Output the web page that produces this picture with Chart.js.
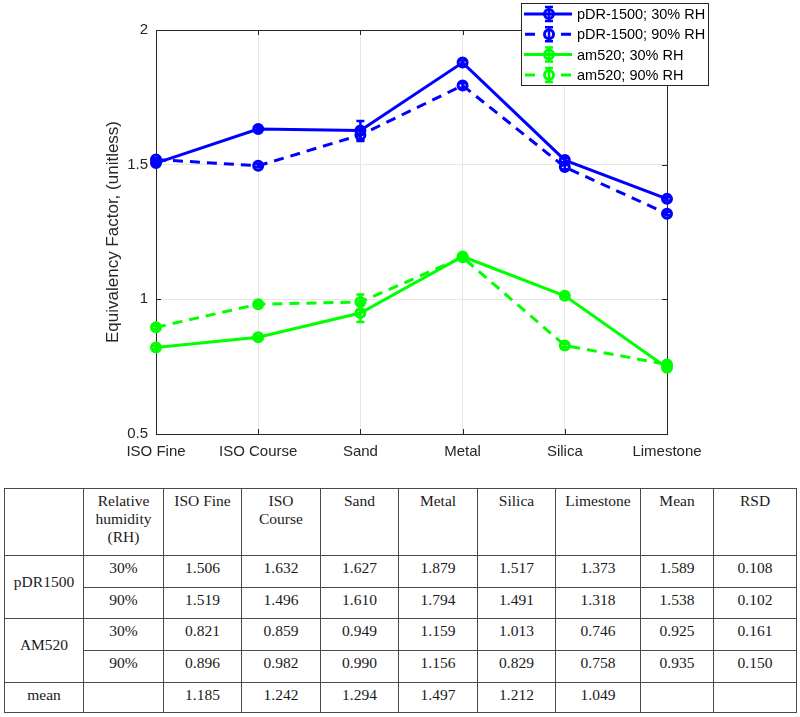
<!DOCTYPE html>
<html>
<head>
<meta charset="utf-8">
<script src="https://cdn.jsdelivr.net/npm/chart.js@4/dist/chart.umd.min.js"></script>
<style>
body{margin:0;background:#fff;}
#wrap{position:absolute;left:0;top:0;width:800px;height:480px;}
#tbl{position:absolute;left:4px;top:488px;border-collapse:collapse;table-layout:fixed;width:792px;
font-family:"Liberation Serif","Times New Roman",serif;font-size:15.5px;color:#1a1a1a;}
#tbl td{border:1px solid #4a4a4a;text-align:center;vertical-align:top;padding:3px 2px 0 2px;line-height:18px;overflow:hidden;white-space:pre-line;}
#tbl td.grp{vertical-align:middle;padding-bottom:14px;}
</style>
</head>
<body>
<div id="wrap"><canvas id="chart"></canvas></div>
<table id="tbl"></table>
<script>
const categories = ["ISO Fine","ISO Course","Sand","Metal","Silica","Limestone"]

const pdr30 = [1.506,1.632,1.627,1.879,1.517,1.373]
const pdr90 = [1.519,1.496,1.610,1.794,1.491,1.318]
const am30 = [0.821,0.859,0.949,1.159,1.013,0.746]
const am90 = [0.896,0.982,0.990,1.156,0.829,0.758]

// error bar half-lengths
const errPdr30 = [0.008,0.008,0.035,0.008,0.008,0.006]
const errPdr90 = [0.006,0.006,0.022,0.008,0.008,0.006]
const errAm30 = [0.006,0.006,0.033,0.006,0.006,0.006]
const errAm90 = [0.006,0.006,0.028,0.006,0.006,0.008]

const yTicks = [0.5,1,1.5,2]

// table values
const tableHead = ["","Relative\nhumidity\n(RH)","ISO Fine","ISO\nCourse","Sand","Metal","Silica","Limestone","Mean","RSD"]
const rhLevels = ["30%","90%"]
const meanPdr = [1.589,1.538]
const rsdPdr = [0.108,0.102]
const meanAm = [0.925,0.935]
const rsdAm = [0.161,0.150]
const colMeans = [1.185,1.242,1.294,1.497,1.212,1.049]

const BLUE = "#0000ff"
const GREEN = "#00ff00"
const AXIS = "#262626"
const FONT = "'Liberation Sans', Arial, sans-serif"

function ds(label, data, err, color, dashed){
return {
label:label,
data:data,
err:err,
borderColor:color,
backgroundColor:"transparent",
borderWidth:3,
borderDash:dashed ? [10,7] : [],
pointRadius:4.5,
pointHoverRadius:4.5,
pointBorderWidth:3,
pointBorderColor:color,
pointBackgroundColor:"rgba(0,0,0,0)",
tension:0,
clip:false
}
}

const boxPlugin = {
id:"box",
beforeDatasetsDraw(chart){
const {ctx, chartArea:a, scales:{x,y}} = chart
ctx.save()
ctx.strokeStyle = AXIS
ctx.lineWidth = 1
ctx.strokeRect(a.left+0.5, a.top+0.5, a.right-a.left, a.bottom-a.top)
ctx.beginPath()
categories.forEach((c,i)=>{
const px = Math.round(x.getPixelForValue(i))+0.5
ctx.moveTo(px,a.bottom); ctx.lineTo(px,a.bottom-5)
ctx.moveTo(px,a.top); ctx.lineTo(px,a.top+5)
})
yTicks.forEach(v=>{
const py = Math.round(y.getPixelForValue(v))+0.5
ctx.moveTo(a.left,py); ctx.lineTo(a.left+5,py)
ctx.moveTo(a.right,py); ctx.lineTo(a.right-5,py)
})
ctx.stroke()
ctx.restore()
}
}

const errorBars = {
id:"errorBars",
afterDatasetsDraw(chart){
const {ctx, scales:{x,y}} = chart
chart.data.datasets.forEach(d=>{
ctx.save()
ctx.strokeStyle = d.borderColor
ctx.lineWidth = 2.5
ctx.setLineDash([])
ctx.beginPath()
d.data.forEach((v,j)=>{
const px = x.getPixelForValue(j)
const y1 = y.getPixelForValue(v+d.err[j])
const y2 = y.getPixelForValue(v-d.err[j])
ctx.moveTo(px,y1); ctx.lineTo(px,y2)
ctx.moveTo(px-4,y1); ctx.lineTo(px+4,y1)
ctx.moveTo(px-4,y2); ctx.lineTo(px+4,y2)
})
ctx.stroke()
ctx.restore()
})
}
}

const legendBox = {
id:"legendBox",
afterDraw(chart){
const {ctx} = chart
const L = 521, T = 3.5, W = 187, H = 82
ctx.save()
ctx.fillStyle = "#fff"
ctx.fillRect(L,T,W,H)
ctx.strokeStyle = AXIS
ctx.lineWidth = 1
ctx.strokeRect(L+0.5,T,W,H)
chart.data.datasets.forEach((d,i)=>{
const cy = 14 + i*20.3
ctx.strokeStyle = d.borderColor
ctx.lineWidth = 3
ctx.setLineDash(d.borderDash)
ctx.beginPath()
if(d.borderDash.length){
ctx.moveTo(525,cy); ctx.lineTo(536,cy)
ctx.moveTo(561,cy); ctx.lineTo(572,cy)
}else{
ctx.moveTo(524,cy); ctx.lineTo(572,cy)
}
ctx.stroke()
ctx.setLineDash([])
ctx.lineWidth = 2.5
ctx.beginPath()
ctx.moveTo(549,cy-7); ctx.lineTo(549,cy+7)
ctx.moveTo(545,cy-7); ctx.lineTo(553,cy-7)
ctx.moveTo(545,cy+7); ctx.lineTo(553,cy+7)
ctx.stroke()
ctx.lineWidth = 3
ctx.beginPath()
ctx.arc(549,cy,4.5,0,Math.PI*2)
ctx.stroke()
ctx.fillStyle = "#000"
ctx.font = "14.5px " + FONT
ctx.textBaseline = "middle"
ctx.fillText(d.label, 577, cy+1)
})
ctx.restore()
}
}

new Chart(document.getElementById("chart"),{
type:"line",
data:{
labels:categories,
datasets:[
ds("pDR-1500; 30% RH", pdr30, errPdr30, BLUE, false),
ds("pDR-1500; 90% RH", pdr90, errPdr90, BLUE, true),
ds("am520; 30% RH", am30, errAm30, GREEN, false),
ds("am520; 90% RH", am90, errAm90, GREEN, true)
]
},
options:{
responsive:true,
maintainAspectRatio:false,
animation:false,
layout:{padding:{left:100,right:133,top:30,bottom:0}},
plugins:{
legend:{display:false},
tooltip:{enabled:false}
},
scales:{
x:{
offset:false,
afterFit:s=>{s.height = 46},
grid:{color:"#e6e6e6",drawTicks:false},
border:{display:false},
ticks:{color:AXIS,padding:9,font:{family:FONT,size:15},maxRotation:0,autoSkip:false}
},
y:{
min:0.5,
max:2,
afterFit:s=>{s.width = 56},
afterBuildTicks:s=>{s.ticks = yTicks.map(v=>({value:v}))},
grid:{color:"#e6e6e6",drawTicks:false},
border:{display:false},
ticks:{color:AXIS,padding:8,font:{family:FONT,size:15},callback:v=>String(v)},
title:{display:true,text:"Equivalency Factor, (unitless)",color:AXIS,font:{family:FONT,size:17},padding:{top:3,bottom:0}}
}
}
},
plugins:[boxPlugin,errorBars,legendBox]
})

// table below the chart
const colW = [79,80,78,79,78,79,78,85,73,83]
const rowH = [67,32,31,32,32,30]
const tbl = document.getElementById("tbl")
const cg = document.createElement("colgroup")
colW.forEach(w=>{const c = document.createElement("col"); c.style.width = w+"px"; cg.appendChild(c)})
tbl.appendChild(cg)

function addRow(cells, h){
const tr = document.createElement("tr")
tr.style.height = h+"px"
cells.forEach(c=>{
const td = document.createElement("td")
if(typeof c === "object" && c !== null){
td.textContent = c.text
if(c.rowSpan){td.rowSpan = c.rowSpan; td.className = "grp"}
}else td.textContent = c
tr.appendChild(td)
})
tbl.appendChild(tr)
}
const f = v=>v.toFixed(3)

addRow(tableHead, rowH[0])
addRow([{text:"pDR1500",rowSpan:2}, rhLevels[0], ...pdr30.map(f), f(meanPdr[0]), f(rsdPdr[0])], rowH[1])
addRow([rhLevels[1], ...pdr90.map(f), f(meanPdr[1]), f(rsdPdr[1])], rowH[2])
addRow([{text:"AM520",rowSpan:2}, rhLevels[0], ...am30.map(f), f(meanAm[0]), f(rsdAm[0])], rowH[3])
addRow([rhLevels[1], ...am90.map(f), f(meanAm[1]), f(rsdAm[1])], rowH[4])
addRow(["mean", "", ...colMeans.map(f), "", ""], rowH[5])
</script>
</body>
</html>
